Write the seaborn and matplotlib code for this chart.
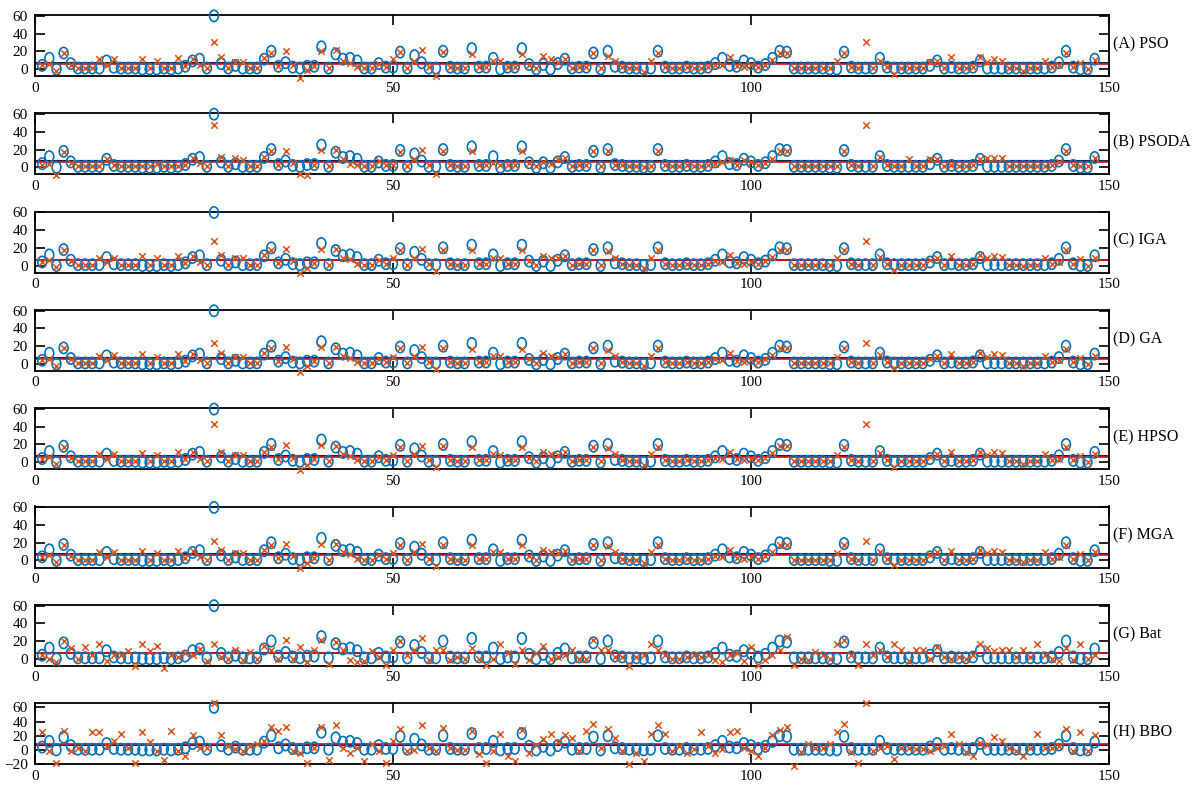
import numpy as np
import pandas as pd
import matplotlib
matplotlib.use("Agg")
import matplotlib.pyplot as plt
from matplotlib.path import Path
from matplotlib.transforms import Affine2D
import seaborn as sns

# ---------------------------------------------------------------- data
sample_no = list(range(1, 149))

measured = [4, 12, 0, 18, 6, 1, 1, 1, 1, 9,
            2, 1, 1, 1, 0, 0, 0, 1, 0, 1,
            3, 9, 11, 1, 60, 6, 1, 4, 1, 1,
            1, 11, 20, 3, 7, 2, 1, 3, 3, 25,
            1, 17, 11, 12, 9, 1, 1, 6, 2, 2,
            19, 1, 15, 7, 1, 1, 20, 2, 1, 1,
            23, 2, 2, 12, 0, 2, 2, 23, 5, 0,
            5, 0, 6, 11, 1, 2, 2, 18, 0, 20,
            3, 2, 1, 1, 0, 1, 20, 2, 1, 1,
            2, 1, 1, 2, 6, 12, 4, 3, 9, 6,
            2, 5, 12, 20, 19, 1, 1, 1, 1, 1,
            0, 0, 19, 2, 1, 1, 1, 12, 2, 1,
            1, 1, 1, 1, 4, 9, 1, 2, 1, 1,
            2, 9, 1, 1, 1, 1, 1, 1, 1, 1,
            1, 2, 7, 20, 2, 0, 0, 11]

pso = [4, 6, -2, 18, 5, 1, 1, 1, 11, 4,
       11, 1, 1, 1, 11, 1, 9, 1, 1, 12,
       3, 11, 4, 1, 30, 14, 1, 8, 8, 1,
       1, 12, 18, 3, 20, 5, -10, -1, 3, 20,
       1, 21, 9, 7, 2, 1, 1, 6, 2, 11,
       19, 1, 9, 21, 2, -8, 19, 2, 1, 1,
       17, 2, 2, 9, 9, 2, 2, 17, 5, 1,
       15, 11, 8, 11, 1, 2, 2, 18, 1, 15,
       9, 2, 1, 1, -4, 9, 18, 2, 1, 1,
       2, 1, 1, 2, 5, 4, 13, 3, 2, 4,
       2, 5, 10, 18, 18, 1, 1, 1, 1, 1,
       1, 9, 18, 2, 1, 30, 1, 9, 2, -6,
       1, 1, 1, 1, 8, 9, 1, 13, 1, 1,
       2, 14, 8, 11, 9, 1, 1, -2, 1, 1,
       9, 2, 5, 18, 2, 7, 0, 10]

psoda = [2, 4, -9, 17, 5, 1, 1, 1, 1, 9,
         2, 1, 1, 1, 1, 1, 4, 1, 1, 1,
         3, 11, 5, 1, 48, 12, 1, 11, 8, 1,
         1, 12, 18, 3, 18, 5, -8, -9, 3, 19,
         1, 19, 9, 4, 2, 1, 1, 7, 2, 3,
         17, 1, 9, 19, 2, -8, 18, 2, 1, 1,
         18, 2, 2, 5, 2, 2, 2, 18, 5, 1,
         6, 4, 9, 11, 1, 2, 2, 18, 1, 18,
         3, 2, 1, 1, 0, 1, 18, 2, 1, 1,
         2, 1, 1, 2, 4, 6, 8, 3, 8, 6,
         2, 5, 9, 18, 18, 1, 1, 1, 1, 1,
         1, 1, 18, 2, 1, 48, 1, 12, 2, 1,
         1, 9, 1, 1, 9, 9, 1, 2, 1, 1,
         2, 9, 11, 11, 10, 1, 1, 1, 1, 1,
         1, 2, 6, 18, 2, 1, 1, 10]

iga = [4, 6, -2, 18, 5, 1, 1, 1, 9, 4,
       9, 1, 1, 1, 11, 1, 9, 1, 1, 11,
       3, 11, 4, 1, 28, 12, 1, 8, 8, 1,
       1, 12, 18, 3, 19, 5, -9, -3, 3, 19,
       1, 19, 9, 7, 2, 1, 1, 6, 2, 9,
       18, 1, 9, 19, 2, -6, 18, 2, 1, 1,
       17, 2, 2, 9, 9, 2, 2, 17, 5, 1,
       11, 9, 8, 11, 1, 2, 2, 18, 1, 16,
       9, 2, 1, 1, -3, 9, 18, 2, 1, 1,
       2, 1, 1, 2, 5, 4, 12, 3, 2, 4,
       2, 5, 10, 18, 18, 1, 1, 1, 1, 1,
       1, 8, 18, 2, 1, 28, 1, 10, 2, -5,
       1, 1, 1, 1, 6, 9, 1, 11, 1, 1,
       2, 12, 8, 11, 10, 1, 1, -1, 1, 1,
       9, 2, 4, 17, 2, 7, 0, 9]

ga = [4, 6, -2, 18, 5, 1, 1, 1, 9, 4,
      10, 1, 1, 1, 11, 1, 8, 1, 1, 11,
      3, 11, 4, 1, 24, 12, 1, 8, 8, 1,
      1, 12, 18, 3, 19, 5, -9, -3, 3, 19,
      1, 19, 9, 7, 2, 1, 1, 6, 2, 8,
      18, 1, 9, 19, 2, -6, 18, 2, 1, 1,
      17, 2, 2, 9, 9, 2, 2, 17, 5, 1,
      12, 9, 8, 11, 1, 2, 2, 18, 1, 16,
      9, 2, 1, 1, -3, 9, 18, 2, 1, 1,
      2, 1, 1, 2, 5, 4, 12, 3, 2, 4,
      2, 5, 10, 18, 18, 1, 1, 1, 1, 1,
      1, 8, 18, 2, 1, 24, 1, 10, 2, -5,
      1, 1, 1, 1, 6, 9, 1, 11, 1, 1,
      2, 12, 8, 11, 10, 1, 1, -2, 1, 1,
      9, 2, 4, 17, 2, 7, 0, 9]

hpso = [4, 6, -2, 17, 5, 1, 1, 1, 9, 4,
        9, 1, 1, 1, 10, 1, 8, 1, 1, 11,
        3, 11, 4, 1, 43, 12, 1, 8, 8, 1,
        1, 12, 17, 3, 19, 5, -9, -3, 3, 19,
        1, 18, 9, 7, 2, 1, 1, 6, 2, 8,
        17, 1, 9, 18, 2, -6, 18, 2, 1, 1,
        17, 2, 2, 9, 8, 2, 2, 17, 5, 1,
        12, 9, 8, 11, 1, 2, 2, 17, 1, 16,
        9, 2, 1, 1, -3, 9, 17, 2, 1, 1,
        2, 1, 1, 2, 5, 4, 12, 3, 2, 4,
        2, 5, 10, 18, 18, 1, 1, 1, 1, 1,
        1, 8, 17, 2, 1, 43, 1, 10, 2, -5,
        1, 1, 1, 1, 6, 9, 1, 11, 1, 1,
        2, 12, 8, 11, 10, 1, 1, -2, 1, 1,
        9, 2, 4, 17, 2, 7, 0, 9]

mga = [4, 6, -2, 18, 5, 1, 1, 1, 9, 4,
       10, 1, 1, 1, 11, 1, 8, 1, 1, 11,
       3, 11, 4, 1, 22, 12, 1, 8, 8, 1,
       1, 12, 18, 3, 19, 5, -9, -3, 3, 19,
       1, 19, 9, 7, 2, 1, 1, 6, 2, 8,
       18, 1, 9, 19, 2, -6, 18, 2, 1, 1,
       17, 2, 2, 9, 9, 2, 2, 17, 5, 1,
       12, 9, 8, 11, 1, 2, 2, 18, 1, 16,
       9, 2, 1, 1, -3, 9, 18, 2, 1, 1,
       2, 1, 1, 2, 5, 4, 12, 3, 2, 4,
       2, 5, 10, 18, 18, 1, 1, 1, 1, 1,
       1, 8, 18, 2, 1, 22, 1, 10, 2, -5,
       1, 1, 1, 1, 6, 9, 1, 11, 1, 1,
       2, 12, 8, 11, 10, 1, 1, -2, 1, 1,
       9, 2, 4, 17, 2, 7, 0, 9]

bat = [4, 0, -4, 20, 12, 0, 13, 4, 17, -3,
       4, 4, 9, -8, 17, 9, 14, -10, 4, 2,
       6, 4, 11, -3, 17, 2, 0, 10, -1, 8,
       0, 14, 10, 0, 21, 0, 13, -4, 10, 21,
       -6, 19, 10, -1, -4, -3, 9, 2, -7, 10,
       20, 4, 10, 23, -1, 10, 10, -1, 2, 0,
       12, 0, -7, 0, 17, 6, -6, 10, -1, 6,
       14, 0, 2, 4, 10, 0, 0, 21, 10, 10,
       2, 2, -8, 2, 4, 17, 10, 4, 0, 0,
       2, 4, 2, 4, -2, -4, 4, 6, -3, 13,
       -7, -1, 4, 10, 25, -7, 0, -1, 8, 4,
       0, 17, 21, 4, -7, 17, 4, 10, 2, 17,
       10, -3, 10, 10, 0, 13, 2, 0, 2, 0,
       4, 17, 12, 9, 10, 10, 2, 10, 2, 17,
       4, 0, -3, 12, -1, 17, 0, 4]

bbo = [25, -1, -19, 27, -2, 3, -2, 25, 25, 6,
       13, 23, 3, -19, 25, 11, -2, -14, 26, -2,
       -8, 21, 3, 2, 66, 21, 6, 1, -1, 6,
       8, 13, 32, 26, 33, -2, -4, -19, 3, 33,
       -14, 35, 2, -4, 2, -16, 8, -2, -18, 13,
       30, -2, 0, 35, 2, -2, 31, 2, 0, 0,
       27, -6, -18, -2, 23, -8, -16, 28, -4, 7,
       16, 23, 11, 21, 17, -2, 26, 36, 2, 30,
       17, -2, -20, -4, -16, 23, 35, 23, -2, 6,
       -4, 1, 25, 6, -4, 1, 25, 26, 2, -2,
       -9, 2, 21, 28, 33, -22, -3, 8, 2, 2,
       8, 25, 37, -3, -18, 66, -2, 2, 6, -13,
       2, 2, 1, 1, -2, 2, 6, 23, 8, -3,
       -9, 10, 7, 18, 12, 2, -2, -9, 2, 23,
       2, 2, 6, 30, -2, 25, -2, 21]

panel_titles = ["(A) PSO", "(B) PSODA", "(C) IGA", "(D) GA",
                "(E) HPSO", "(F) MGA", "(G) Bat", "(H) BBO"]
predictions = [pso, psoda, iga, ga, hpso, mga, bat, bbo]

# reference levels drawn across each panel
measured_level = 6.8
predicted_levels = [5.8, 6.2, 5.8, 5.8, 6.0, 5.8, 6.3, 8.8]

x_ticks = [0, 50, 100, 150]

# ---------------------------------------------------------------- style
sns.set_theme(style="white")
plt.rcParams["font.family"] = ["Liberation Serif", "DejaVu Serif"]
plt.rcParams["axes.linewidth"] = 1.3

BLUE = "#0072BD"
ORANGE = "#D95319"
NAVY = "#1c1c4e"
RED = "#e01010"

# slightly tall open ellipse for the measured values
ellipse = Path.unit_circle().transformed(Affine2D().scale(0.78, 1.0))

W, H = 1198, 789
fig = plt.figure(figsize=(W / 100, H / 100), dpi=100)

left_px, right_px = 35, 1109
axes_h = 61

for k, (title, pred) in enumerate(zip(panel_titles, predictions)):
    top_px = 15 + 98.3 * k
    ax = fig.add_axes([left_px / W, 1 - (top_px + axes_h) / H,
                       (right_px - left_px) / W, axes_h / H])
    df = pd.DataFrame({"sample": sample_no, "measured": measured,
                       "predicted": pred})

    ax.axhline(measured_level, color=NAVY, lw=1.5, zorder=1)
    ax.axhline(predicted_levels[k], color=RED, lw=1.2, zorder=1.1)

    sns.scatterplot(data=df, x="sample", y="measured", ax=ax,
                    marker=ellipse, s=66, facecolor="none",
                    edgecolor=BLUE, linewidth=1.2, clip_on=False,
                    zorder=3, legend=False)
    sns.scatterplot(data=df, x="sample", y="predicted", ax=ax,
                    marker="x", s=22, color=ORANGE, linewidth=1.1,
                    clip_on=False, zorder=4, legend=False)

    ax.set_xlim(0, 150)
    ax.set_xticks(x_ticks)
    if k == 7:
        ax.set_ylim(-20, 66)
        ax.set_yticks([-20, 0, 20, 40, 60])
    else:
        ax.set_ylim(-8, 61)
        ax.set_yticks([0, 20, 40, 60])
    ax.set_xlabel("")
    ax.set_ylabel("")
    ax.tick_params(axis="both", which="both", direction="in", length=7,
                   width=1.2, colors="black", labelsize=11,
                   top=True, right=True, bottom=True, left=True)
    ax.tick_params(axis="x", pad=4)
    ax.tick_params(axis="y", pad=5)
    for sp in ax.spines.values():
        sp.set_color("black")
        sp.set_linewidth(1.3)
        sp.set_visible(True)
    ax.set_facecolor("white")
    ax.text(1.004, 0.52, title, transform=ax.transAxes, ha="left",
            va="center", fontsize=11.5, color="black")

fig.savefig("out.png", dpi=100, facecolor="white")
